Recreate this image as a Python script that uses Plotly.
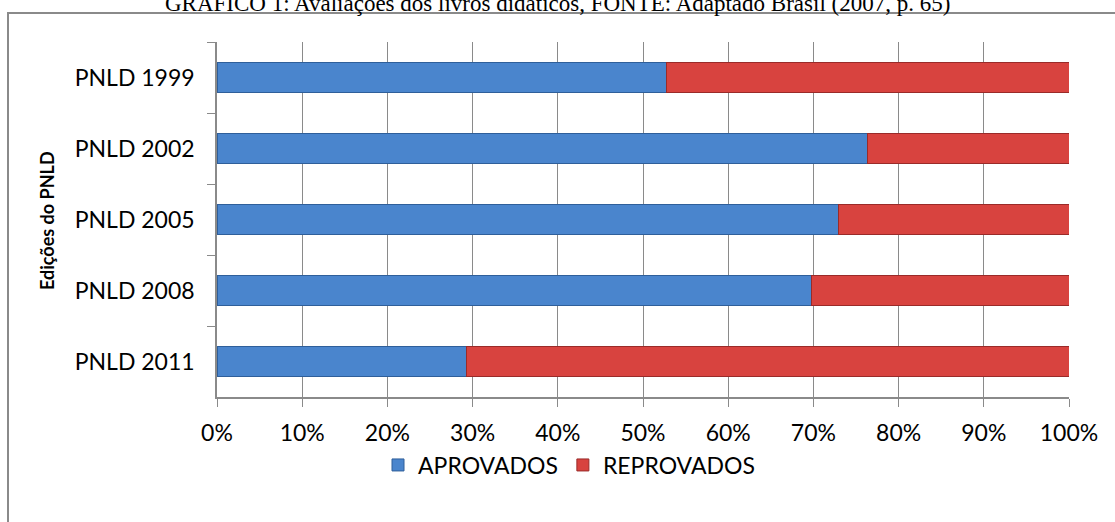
import plotly.graph_objects as go

categories = ["PNLD 1999", "PNLD 2002", "PNLD 2005", "PNLD 2008", "PNLD 2011"]
aprovados = [52.8, 76.4, 72.9, 69.8, 29.3]
reprovados = [47.2, 23.6, 27.1, 30.2, 70.7]
x_ticks = [0, 10, 20, 30, 40, 50, 60, 70, 80, 90, 100]
x_tick_labels = [f"{v}%" for v in x_ticks]

W, H = 1115, 522
L, R, T, B = 217, 46, 42, 125
pw, ph = W - L - R, H - T - B

def px_x(p):
    return (p - L) / pw

def px_y(p):
    return (H - B - p) / ph

font_main = "Lato, Carlito, Calibri, sans-serif"

fig = go.Figure()
fig.add_trace(go.Bar(
    y=categories, x=aprovados, orientation="h", name="APROVADOS",
    marker=dict(color="#4a85cd", line=dict(color="#2f5f9a", width=1)),
    width=0.43,
))
fig.add_trace(go.Bar(
    y=categories, x=reprovados, orientation="h", name="REPROVADOS",
    marker=dict(color="#d8433f", line=dict(color="#9a2b29", width=1)),
    width=0.43,
))

fig.update_layout(
    width=W, height=H,
    margin=dict(l=L, r=R, t=T, b=B),
    barmode="stack",
    paper_bgcolor="white", plot_bgcolor="white",
    font=dict(family=font_main, size=23, color="black"),
    showlegend=True,
    legend=dict(orientation="h", x=px_x(378), y=px_y(465), xanchor="left", yanchor="middle",
                font=dict(size=23), itemwidth=30, traceorder="normal"),
    xaxis=dict(range=[0, 100], tickvals=x_ticks, ticktext=x_tick_labels,
               showgrid=True, gridcolor="#8a8a8a", gridwidth=1,
               showline=True, linecolor="#8a8a8a", linewidth=1.5,
               ticks="outside", ticklen=8, tickcolor="#8a8a8a",
               ticklabelstandoff=7, zeroline=False, fixedrange=True),
    yaxis=dict(autorange="reversed", type="category", tickson="boundaries",
               showline=True, linecolor="#8a8a8a", linewidth=1.5,
               ticks="outside", ticklen=8, tickcolor="#8a8a8a",
               ticklabelstandoff=16, showgrid=False, fixedrange=True),
    shapes=[dict(type="rect", xref="paper", yref="paper",
                 x0=px_x(8), y0=px_y(13), x1=px_x(1130), y1=px_y(540),
                 line=dict(color="#8a8a8a", width=2), fillcolor="rgba(0,0,0,0)", layer="below")],
    annotations=[
        dict(text="GRÁFICO 1: Avaliações dos livros didáticos, FONTE: Adaptado Brasil (2007, p. 65)",
             xref="paper", yref="paper", x=px_x(557), y=px_y(4), xanchor="center", yanchor="middle",
             showarrow=False, font=dict(family="Liberation Serif, Times New Roman, serif", size=23, color="black")),
        dict(text="<b>Edições do PNLD</b>", xref="paper", yref="paper", x=px_x(47), y=px_y(221),
             xanchor="center", yanchor="middle", textangle=-90, showarrow=False,
             font=dict(family=font_main, size=18, color="black")),
    ],
)

fig.write_html("out.html", config={"displayModeBar": False},
               post_script="document.body.style.margin='0';")
